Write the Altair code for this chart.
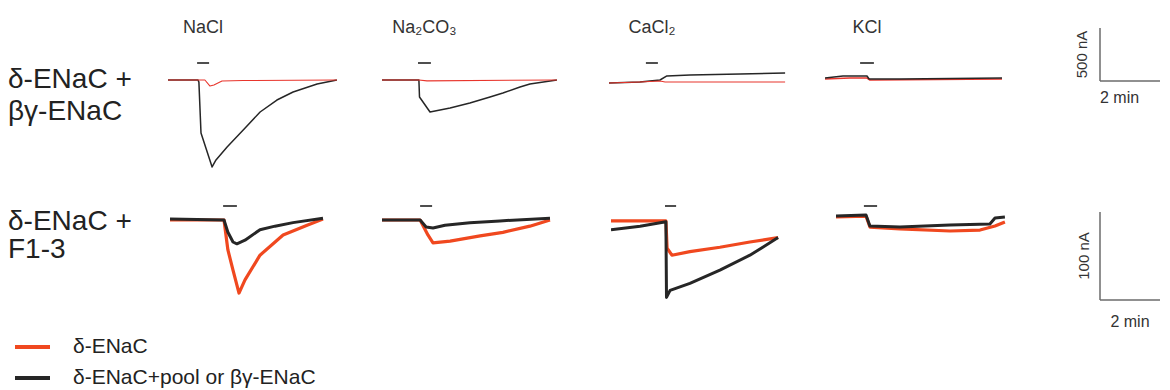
import altair as alt
import pandas as pd

# ---------------- data (time in min, current in nA) ----------------
titles = ["NaCl", "Na₂CO₃", "CaCl₂", "KCl"]
row_labels_1 = ["δ-ENaC +", "βγ-ENaC"]
row_labels_2 = ["δ-ENaC +", "F1-3"]
legend_labels = ["δ-ENaC", "δ-ENaC+pool or βγ-ENaC"]

stim_on_1 = [0.97, 1.20, 1.23, 1.17]
stim_off_1 = [1.37, 1.63, 1.63, 1.63]
stim_on_2 = [1.77, 1.27, 1.80, 0.93]
stim_off_2 = [2.23, 1.67, 2.17, 1.37]

# row 1: delta-ENaC + beta-gamma-ENaC
r1_nacl_blk_t = [0, 1.0, 1.03, 1.1, 1.47, 1.6, 1.97, 2.57, 3.07, 3.63, 4.17, 4.97, 5.63]
r1_nacl_blk_i = [0, 0, -20, -500, -820, -754, -632, -453, -302, -189, -113, -38, 0]
r1_nacl_red_t = [0, 1.23, 1.4, 1.53, 1.8, 2.5, 5.63]
r1_nacl_red_i = [0, 0, -57, -47, -10, -5, 0]

r1_na2_blk_t = [0, 1.23, 1.25, 1.6, 2.27, 2.93, 3.6, 4.03, 4.6, 4.93, 5.83]
r1_na2_blk_i = [0, 0, -160, -302, -264, -217, -160, -123, -66, -38, 0]
r1_na2_red_t = [0, 1.23, 1.5, 5.83]
r1_na2_red_i = [0, 0, -8, 0]

r1_ca_blk_t = [0, 1.03, 1.7, 1.93, 2.7, 4.37, 5.87]
r1_ca_blk_i = [-28, -19, 0, 38, 47, 57, 66]
r1_ca_red_t = [0, 1.03, 1.7, 1.87, 5.87]
r1_ca_red_i = [-28, -19, -9, -19, -19]

r1_kcl_blk_t = [0, 0.6, 1.4, 1.47, 2.5, 5.9]
r1_kcl_blk_i = [19, 38, 38, 9, 9, 19]
r1_kcl_red_t = [0, 0.83, 1.4, 1.5, 5.9]
r1_kcl_red_i = [9, 19, 19, 0, 9]

# row 2: delta-ENaC + F1-3
r2_nacl_blk_t = [0, 1.8, 1.93, 2.1, 2.23, 2.5, 3.0, 3.5, 4.1, 5.1]
r2_nacl_blk_i = [1, 0, -14, -25, -27, -23, -11, -7, -3, 2]
r2_nacl_red_t = [0, 1.8, 1.93, 2.1, 2.3, 2.5, 3.0, 3.77, 4.57, 5.1]
r2_nacl_red_i = [0, 0, -34, -57, -83, -68, -40, -17, -6, 1]

r2_na2_blk_t = [0, 1.27, 1.47, 1.7, 2.1, 2.93, 3.93, 5.6]
r2_na2_blk_i = [0, 0, -8, -9, -6, -3, -1, 2]
r2_na2_red_t = [0, 1.27, 1.53, 1.7, 2.27, 3.27, 4.03, 4.93, 5.6]
r2_na2_red_i = [0, 0, -17, -26, -24, -18, -14, -7, 0]

r2_ca_blk_t = [0, 0.97, 1.83, 1.85, 1.97, 2.63, 3.63, 4.63, 5.57]
r2_ca_blk_i = [-11, -7, -2, -88, -80, -72, -57, -40, -20]
r2_ca_red_t = [0, 1.83, 1.87, 2.03, 2.63, 3.63, 4.63, 5.57]
r2_ca_red_i = [-1, -1, -32, -40, -36, -31, -25, -20]

r2_kcl_blk_t = [0, 1.0, 1.13, 2.13, 3.8, 5.13, 5.3, 5.63]
r2_kcl_blk_i = [4.5, 5.7, -6.8, -8, -5.7, -4.5, 2.3, 3.4]
r2_kcl_red_t = [0, 1.0, 1.13, 2.13, 3.8, 4.8, 5.3, 5.63]
r2_kcl_red_i = [3.4, 4.5, -8, -10, -12.5, -11.4, -6.8, -2.3]

scale_nA_1 = 500
scale_nA_2 = 100
scale_min = 2

# ---------------- layout / style ----------------
FONT = "Liberation Sans, Arial, DejaVu Sans"
PX_PER_MIN = 30.0
NA_PER_PX_1 = 500 / 53.0
NA_PER_PX_2 = 100 / 88.0
H1, H2, H3 = 180, 140, 54
BASE1, BASE2 = 72, 32          # baseline pixel inside each row
W1 = [160, 214, 227, 216, 185, 152]
W2 = [162, 212, 229, 225, 174, 152]
RED1, RED2, BLK = "#e8352c", "#f0481f", "#262626"
BAR = "#6b6b6b"


def ydom(h, base, k):
    return [-(h - base) * k, base * k]


def trace_panel(width, height, yd, traces, on, off, title=None, stim_y=55):
    xs = alt.Scale(domain=[0, width / PX_PER_MIN], nice=False, zero=False)
    ys = alt.Scale(domain=yd, nice=False, zero=False)
    layers = []
    for t, i, col, sw in traces:
        df = pd.DataFrame({"t": t, "i": i})
        layers.append(
            alt.Chart(df).mark_line(color=col, strokeWidth=sw, clip=True,
                                    strokeJoin="round")
            .encode(x=alt.X("t:Q", scale=xs, axis=None),
                    y=alt.Y("i:Q", scale=ys, axis=None))
        )
    sdf = pd.DataFrame({"t0": [on], "t1": [off], "tc": [(on + off) / 2],
                        "lab": [title or ""]})
    layers.append(
        alt.Chart(sdf).mark_rule(color="#222", strokeWidth=1.6)
        .encode(x=alt.X("t0:Q", scale=xs, axis=None), x2="t1:Q",
                y=alt.value(stim_y))
    )
    if title:
        layers.append(
            alt.Chart(sdf).mark_text(font=FONT, fontSize=18, color="#333",
                                     align="center", baseline="middle")
            .encode(x=alt.X("tc:Q", scale=xs, axis=None), y=alt.value(20),
                    text="lab:N")
        )
    return alt.layer(*layers).properties(width=width, height=height)


def text_panel(width, height, lines, size):
    layers = []
    for txt, y in lines:
        layers.append(
            alt.Chart(pd.DataFrame({"txt": [txt]}))
            .mark_text(font=FONT, fontSize=size, color="#222", align="left",
                       baseline="middle")
            .encode(x=alt.value(0), y=alt.value(y), text="txt:N")
        )
    return alt.layer(*layers).properties(width=width, height=height)


def scale_panel(width, height, k, zero_px, amp, label, lab_x, min_lab_y,
                min_align, min_x):
    x0 = 90 / PX_PER_MIN
    xs = alt.Scale(domain=[-x0, width / PX_PER_MIN - x0], nice=False, zero=False)
    ys = alt.Scale(domain=[-(height - zero_px) * k, zero_px * k], nice=False,
                   zero=False)
    vdf = pd.DataFrame({"t": [0], "a": [0], "b": [amp]})
    hdf = pd.DataFrame({"t0": [0], "t1": [scale_min], "i": [0]})
    vert = alt.Chart(vdf).mark_rule(color=BAR, strokeWidth=1.5).encode(
        x=alt.X("t:Q", scale=xs, axis=None),
        y=alt.Y("a:Q", scale=ys, axis=None), y2="b:Q")
    hor = alt.Chart(hdf).mark_rule(color=BAR, strokeWidth=1.5).encode(
        x=alt.X("t0:Q", scale=xs, axis=None), x2="t1:Q",
        y=alt.Y("i:Q", scale=ys, axis=None))
    ldf = pd.DataFrame({"lab": [label], "m": [f"{scale_min} min"],
                        "mid": [amp / 2], "tx": [min_x]})
    amp_txt = alt.Chart(ldf).mark_text(font=FONT, fontSize=15, color="#333",
                                       angle=270, align="center",
                                       baseline="middle").encode(
        x=alt.value(lab_x), y=alt.Y("mid:Q", scale=ys, axis=None),
        text="lab:N")
    min_txt = alt.Chart(ldf).mark_text(font=FONT, fontSize=16, color="#333",
                                       align=min_align,
                                       baseline="middle").encode(
        x=alt.X("tx:Q", scale=xs, axis=None), y=alt.value(min_lab_y),
        text="m:N")
    return alt.layer(vert, hor, amp_txt, min_txt).properties(width=width,
                                                             height=height)


yd1 = ydom(H1, BASE1, NA_PER_PX_1)
yd2 = ydom(H2, BASE2, NA_PER_PX_2)

row1_traces = [
    [(r1_nacl_blk_t, r1_nacl_blk_i, BLK, 1.5), (r1_nacl_red_t, r1_nacl_red_i, RED1, 1.1)],
    [(r1_na2_blk_t, r1_na2_blk_i, BLK, 1.5), (r1_na2_red_t, r1_na2_red_i, RED1, 1.1)],
    [(r1_ca_blk_t, r1_ca_blk_i, BLK, 1.5), (r1_ca_red_t, r1_ca_red_i, RED1, 1.1)],
    [(r1_kcl_red_t, r1_kcl_red_i, RED1, 1.6), (r1_kcl_blk_t, r1_kcl_blk_i, BLK, 1.5)],
]
row2_traces = [
    [(r2_nacl_red_t, r2_nacl_red_i, RED2, 3.2), (r2_nacl_blk_t, r2_nacl_blk_i, BLK, 3.0)],
    [(r2_na2_red_t, r2_na2_red_i, RED2, 3.2), (r2_na2_blk_t, r2_na2_blk_i, BLK, 3.0)],
    [(r2_ca_red_t, r2_ca_red_i, RED2, 3.2), (r2_ca_blk_t, r2_ca_blk_i, BLK, 3.0)],
    [(r2_kcl_red_t, r2_kcl_red_i, RED2, 3.2), (r2_kcl_blk_t, r2_kcl_blk_i, BLK, 3.0)],
]

row1 = alt.hconcat(
    text_panel(W1[0], H1, [(row_labels_1[0], 72), (row_labels_1[1], 104)], 28),
    *[trace_panel(W1[j + 1], H1, yd1, row1_traces[j], stim_on_1[j],
                  stim_off_1[j], title=titles[j], stim_y=55) for j in range(4)],
    scale_panel(W1[5], H1, NA_PER_PX_1, 73, scale_nA_1, f"{scale_nA_1} nA",
                72, 90, "left", 0),
    spacing=0, bounds="flush")

row2 = alt.hconcat(
    text_panel(W2[0], H2, [(row_labels_2[0], 34), (row_labels_2[1], 62)], 28),
    *[trace_panel(W2[j + 1], H2, yd2, row2_traces[j], stim_on_2[j],
                  stim_off_2[j], stim_y=18) for j in range(4)],
    scale_panel(W2[5], H2, NA_PER_PX_2, 112, scale_nA_2, f"{scale_nA_2} nA",
                74, 134, "center", scale_min / 2),
    spacing=0, bounds="flush")

# legend row
leg_layers = []
for lab, col, y in [(legend_labels[0], RED2, 17), (legend_labels[1], BLK, 48)]:
    leg_layers.append(
        alt.Chart(pd.DataFrame({"lab": [lab]})).mark_rule(color=col, strokeWidth=4)
        .encode(x=alt.value(7), x2=alt.value(42), y=alt.value(y)))
    leg_layers.append(
        alt.Chart(pd.DataFrame({"lab": [lab]}))
        .mark_text(font=FONT, fontSize=21, color="#222", align="left",
                   baseline="middle")
        .encode(x=alt.value(65), y=alt.value(y), text="lab:N"))
legend = alt.layer(*leg_layers).properties(width=sum(W1), height=H3)

chart = alt.vconcat(row1, row2, legend, spacing=0, padding=0,
                    background="white").configure_view(stroke=None)

chart.save("out.html", embed_options={"renderer": "svg", "actions": False})
